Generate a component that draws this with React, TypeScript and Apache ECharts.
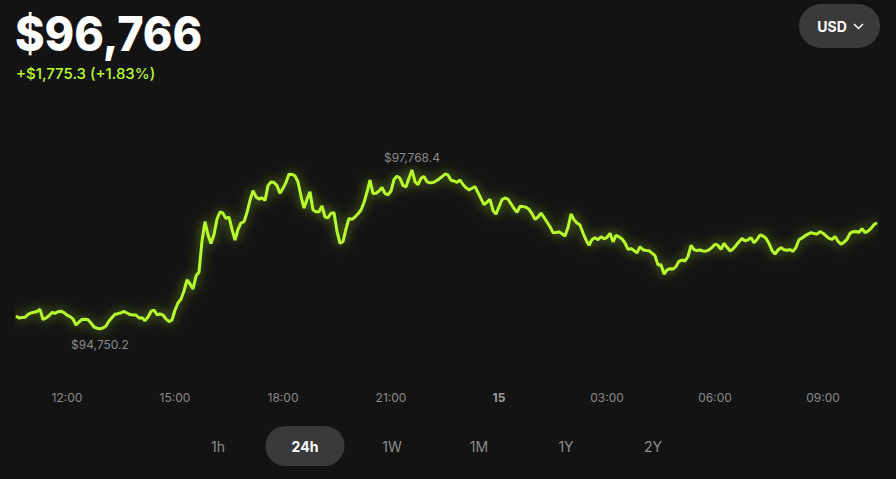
import React, { useEffect, useRef } from "react";
import * as echarts from "echarts";

// ---- data ----
const PRICE_TEXT = "$96,766";
const CHANGE_TEXT = "+$1,775.3 (+1.83%)";
const CURRENCY = "USD";
const RANGES = ["1h", "24h", "1W", "1M", "1Y", "2Y"];
const ACTIVE_RANGE = "24h";

// minutes since 00:00 of the 14th; 5-minute samples from 10:35 to 10:30 next day
const START_MINUTE = 10 * 60 + 35;
const STEP_MINUTES = 5;

const tickMinutes = [720, 900, 1080, 1260, 1440, 1620, 1800, 1980];
const tickLabels = ["12:00", "15:00", "18:00", "21:00", "15", "03:00", "06:00", "09:00"];

const prices = [
  94991, 94956, 94966, 94969, 95023, 95051, 95064, 95080, 95121, 94928, 94956, 94998,
  95062, 95045, 95074, 95085, 95059, 95009, 94981, 94937, 94823, 94880, 94928, 94933,
  94922, 94861, 94785, 94762, 94750.2, 94768, 94804, 94899, 94966, 95026, 95038, 95055,
  95080, 95051, 95021, 95013, 95013, 94956, 94960, 94905, 94975, 95080, 95108, 95017,
  95032, 95013, 94937, 94886, 94918, 95108, 95241, 95317, 95469, 95678, 95602, 95507,
  95754, 95830, 96419, 96786, 96533, 96372, 96543, 96837, 96970, 96947, 96847, 96875,
  96639, 96438, 96641, 96761, 96786, 96961, 97192, 97377, 97257, 97217, 97240, 97190,
  97472, 97540, 97531, 97468, 97325, 97420, 97534, 97688, 97683, 97658, 97540, 97274,
  97046, 97211, 97356, 97008, 96976, 96976, 97084, 96875, 96860, 96947, 96955, 96603,
  96375, 96410, 96651, 96847, 96831, 96875, 96936, 97008, 97151, 97350, 97578, 97322,
  97327, 97369, 97439, 97325, 97297, 97369, 97588, 97648, 97610, 97477, 97445, 97618,
  97768.4, 97546, 97489, 97610, 97645, 97544, 97525, 97529, 97559, 97597, 97643, 97692,
  97675, 97572, 97559, 97532, 97578, 97493, 97432, 97392, 97422, 97451, 97337, 97223,
  97109, 97160, 97211, 97000, 96930, 97069, 97206, 97236, 97213, 97126, 97037, 96966,
  97075, 97073, 97059, 97021, 96938, 96831, 96875, 96947, 96866, 96780, 96691, 96577,
  96579, 96596, 96558, 96514, 96674, 96932, 96822, 96761, 96723, 96571, 96438, 96339,
  96446, 96480, 96442, 96499, 96461, 96489, 96565, 96404, 96527, 96499, 96459, 96381,
  96259, 96275, 96237, 96193, 96311, 96254, 96240, 96233, 96189, 96140, 95965, 95967,
  95792, 95868, 95893, 95885, 95933, 96033, 96058, 96039, 96125, 96335, 96256, 96237,
  96248, 96229, 96225, 96250, 96297, 96358, 96334, 96259, 96375, 96299, 96231, 96267,
  96335, 96406, 96467, 96421, 96442, 96480, 96387, 96448, 96533, 96514, 96472, 96373,
  96240, 96172, 96248, 96290, 96252, 96242, 96256, 96221, 96299, 96444, 96474, 96518,
  96550, 96579, 96560, 96550, 96598, 96567, 96516, 96468, 96451, 96503, 96415, 96358,
  96396, 96449, 96565, 96596, 96600, 96584, 96653, 96577, 96607, 96658, 96731, 96766,
];

const times = prices.map((_, i) => START_MINUTE + i * STEP_MINUTES);

const LIME = "#b7fc2e";
const BG = "#131313";
const FONT = "Inter, 'Noto Sans', sans-serif";

export default function App() {
  const ref = useRef<HTMLDivElement>(null);

  useEffect(() => {
    if (!ref.current) return;
    const chart = echarts.init(ref.current, undefined, { renderer: "svg" });

    const rangeX = [218, 305, 392, 479, 566, 653];
    const rangeGraphics: any[] = [];
    RANGES.forEach((r, i) => {
      const active = r === ACTIVE_RANGE;
      if (active) {
        rangeGraphics.push({
          type: "rect",
          shape: { x: rangeX[i] - 39.5, y: 426, width: 79, height: 40, r: 20 },
          style: { fill: "#3a3a3a" },
        });
      }
      rangeGraphics.push({
        type: "text",
        x: rangeX[i],
        y: 446,
        style: {
          text: r,
          fill: active ? "#ffffff" : "#8c8c8c",
          font: `${active ? "bold " : ""}14px ${FONT}`,
          align: "center",
          verticalAlign: "middle",
        },
      });
    });

    const fmt = (v: number) =>
      "$" + v.toLocaleString("en-US", { minimumFractionDigits: 1, maximumFractionDigits: 1 });

    chart.setOption({
      animation: false,
      backgroundColor: BG,
      grid: { left: 16, right: 19, top: 131.5, height: 236.8 },
      xAxis: {
        type: "value",
        min: times[0],
        max: times[times.length - 1],
        axisLine: { show: false },
        axisTick: { show: false },
        splitLine: { show: false },
        axisLabel: {
          customValues: tickMinutes,
          color: "#8a8a8a",
          fontSize: 12,
          fontFamily: FONT,
          margin: 23,
          formatter: (v: number) => {
            const idx = tickMinutes.indexOf(v);
            const lab = idx >= 0 ? tickLabels[idx] : "";
            return v % 1440 === 0 ? `{b|${lab}}` : lab;
          },
          rich: {
            b: { fontWeight: "bold", color: "#9a9a9a", fontSize: 12, fontFamily: FONT },
          },
        },
      },
      yAxis: { type: "value", min: 94000, max: 98500, show: false },
      series: [
        {
          type: "line",
          data: times.map((t, i) => [t, prices[i]]),
          showSymbol: false,
          symbol: "none",
          lineStyle: {
            color: LIME,
            width: 3,
            shadowColor: "rgba(183,252,46,0.6)",
            shadowBlur: 12,
          },
          markPoint: {
            symbol: "circle",
            symbolSize: 1,
            itemStyle: { color: "rgba(0,0,0,0)" },
            label: {
              color: "#8a8a8a",
              fontSize: 12,
              fontFamily: FONT,
              formatter: (p: any) => fmt(p.value),
            },
            data: [
              { type: "max", label: { position: "top", distance: 6 } },
              { type: "min", label: { position: "bottom", distance: 9 } },
            ],
          },
        },
      ],
      graphic: [
        {
          type: "text",
          x: 15,
          y: 33,
          scaleX: 0.935,
          style: {
            text: PRICE_TEXT,
            fill: "#ffffff",
            font: `800 48px ${FONT}`,
            align: "left",
            verticalAlign: "middle",
          },
        },
        {
          type: "text",
          x: 16,
          y: 73,
          style: {
            text: CHANGE_TEXT,
            fill: LIME,
            font: `500 15px ${FONT}`,
            align: "left",
            verticalAlign: "middle",
          },
        },
        {
          type: "rect",
          shape: { x: 799, y: 4, width: 81, height: 44, r: 22 },
          style: { fill: "#3a3a3a" },
        },
        {
          type: "text",
          x: 832,
          y: 26,
          style: {
            text: CURRENCY,
            fill: "#ffffff",
            font: `bold 14px ${FONT}`,
            align: "center",
            verticalAlign: "middle",
          },
        },
        {
          type: "polyline",
          shape: { points: [[854, 24], [858.5, 28.5], [863, 24]] },
          style: { stroke: "#ffffff", lineWidth: 1.5, fill: null },
        },
        ...rangeGraphics,
      ],
    });

    return () => chart.dispose();
  }, []);

  return (
    <div
      ref={ref}
      style={{ position: "fixed", left: 0, top: 0, width: 896, height: 479, background: BG }}
    />
  );
}
